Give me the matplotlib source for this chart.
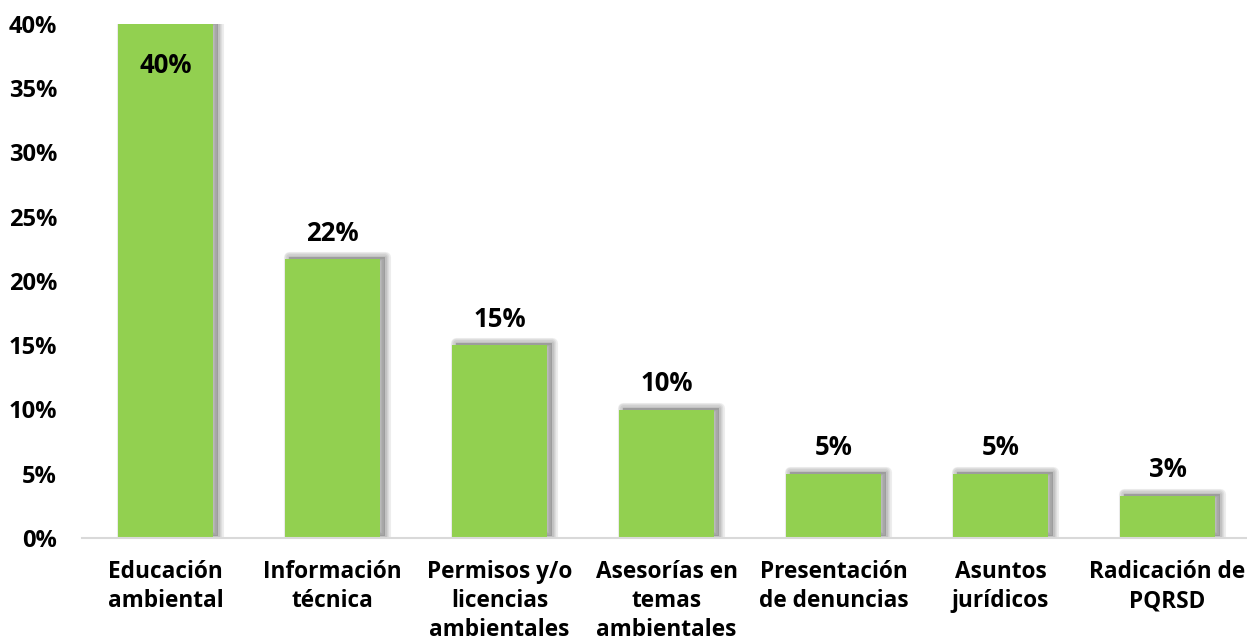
import matplotlib
matplotlib.use("Agg")
import matplotlib.pyplot as plt
from matplotlib.patheffects import AbstractPathEffect, Normal
from matplotlib.ticker import FuncFormatter, MultipleLocator

categories = ["Educación\nambiental", "Información\ntécnica", "Permisos y/o\nlicencias\nambientales",
              "Asesorías en\ntemas\nambientales", "Presentación\nde denuncias", "Asuntos\njurídicos",
              "Radicación de\nPQRSD"]
values = [0.400, 0.217, 0.150, 0.100, 0.050, 0.050, 0.033]
labels = ["40%", "22%", "15%", "10%", "5%", "5%", "3%"]


class SoftShadow(AbstractPathEffect):
    def __init__(self, offset=(3.2, 1.4), widths=(8, 6, 4, 2), alpha=0.09, fill_alpha=0.28):
        super().__init__(offset)
        self.widths = widths
        self.alpha = alpha
        self.fill_alpha = fill_alpha

    def draw_path(self, renderer, gc, tpath, affine, rgbFace):
        col = (0.25, 0.25, 0.25)
        tr = affine + self._offset_transform(renderer)
        for w in self.widths:
            gc0 = renderer.new_gc()
            gc0.copy_properties(gc)
            gc0.set_linewidth(w)
            gc0.set_foreground(col)
            gc0.set_alpha(self.alpha)
            gc0.set_joinstyle("round")
            renderer.draw_path(gc0, tpath, tr, None)
            gc0.restore()
        gc0 = renderer.new_gc()
        gc0.copy_properties(gc)
        gc0.set_linewidth(0)
        gc0.set_alpha(self.fill_alpha)
        renderer.draw_path(gc0, tpath, tr, col + (self.fill_alpha,))
        gc0.restore()


plt.rcParams['font.family'] = ['Open Sans', 'DejaVu Sans']
fig = plt.figure(figsize=(12.47, 6.41), dpi=100)
ax = fig.add_axes([82 / 1247, 1 - 538 / 641, (1251 - 82) / 1247, (538 - 24) / 641])

x = list(range(len(categories)))
bars = ax.bar(x, values, width=0.57, color="#92D050", zorder=3)
for b in bars:
    b.set_path_effects([SoftShadow(), Normal()])

ax.set_xlim(-0.5, len(categories) - 0.5)
ax.set_ylim(0, 0.40)
ax.yaxis.set_major_locator(MultipleLocator(0.05))
ax.yaxis.set_major_formatter(FuncFormatter(lambda v, p: f"{v*100:.0f}%"))

for s in ["top", "right", "left"]:
    ax.spines[s].set_visible(False)
ax.spines["bottom"].set_color("#D9D9D9")
ax.spines["bottom"].set_linewidth(1.5)
ax.spines["bottom"].set_zorder(4)
ax.tick_params(axis="both", length=0)
ax.tick_params(axis="y", pad=18)
ax.tick_params(axis="x", pad=16)
ax.set_xticks(x)
ax.set_xticklabels(categories, fontsize=16.3, fontweight="bold", linespacing=1.28)
for t in ax.get_yticklabels():
    t.set_fontsize(17)
    t.set_fontweight("bold")

for i, (v, lab) in enumerate(zip(values, labels)):
    if i == 0:
        ax.annotate(lab, (i, v), xytext=(0, -20), textcoords="offset points",
                    ha="center", va="top", fontsize=18.5, fontweight="bold", zorder=5)
    else:
        ax.annotate(lab, (i, v), xytext=(0, 9), textcoords="offset points",
                    ha="center", va="bottom", fontsize=18.5, fontweight="bold", zorder=5)

fig.savefig("out.png", dpi=100)
